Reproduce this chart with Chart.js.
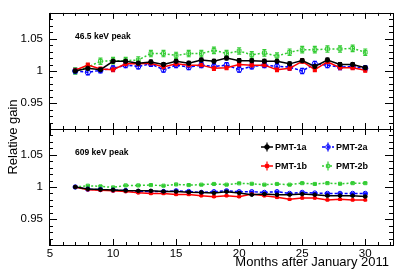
<!DOCTYPE html>
<html>
<head>
<meta charset="utf-8">
<script src="https://cdn.jsdelivr.net/npm/chart.js@4/dist/chart.umd.min.js"></script>
<style>
  html, body { margin: 0; padding: 0; background: #fff; }
  #wrap { position: relative; width: 399px; height: 274px; }
  #wrap canvas { position: absolute; left: 0; top: 0; }
</style>
</head>
<body>
<div id="wrap">
  <canvas id="topChart" width="399" height="274"></canvas>
  <canvas id="botChart" width="399" height="274"></canvas>
</div>
<script>
// months after January 2011
const months = [7,8,9,10,11,12,13,14,15,16,17,18,19,20,21,22,23,24,25,26,27,28,29,30];

// 46.5 keV peak
const top1a = [1.000,1.004,1.002,1.015,1.015,1.012,1.014,1.010,1.015,1.012,1.017,1.015,1.020,1.016,1.016,1.015,1.015,1.011,1.016,1.007,1.017,1.010,1.010,1.005];
const top1b = [1.001,1.009,1.003,1.002,1.011,1.011,1.012,1.006,1.011,1.009,1.009,1.004,1.005,1.010,1.009,1.009,1.002,1.004,1.015,1.002,1.014,1.005,1.005,1.001];
const top2a = [1.000,0.998,1.001,1.004,1.009,1.007,1.011,1.002,1.009,1.006,1.009,1.007,1.009,1.002,1.007,1.009,1.007,1.006,1.000,1.011,1.009,1.006,1.007,1.004];
const top2b = [1.000,1.006,1.015,1.016,1.016,1.017,1.027,1.027,1.024,1.027,1.027,1.032,1.027,1.031,1.025,1.028,1.023,1.029,1.033,1.033,1.034,1.034,1.035,1.029];
const topErr = [0.003, 0.003, 0.004, 0.005]; // 1a, 1b, 2a, 2b

// 609 keV peak
const bot1a = [1.000,0.997,0.996,0.9955,0.9945,0.994,0.994,0.993,0.993,0.992,0.9916,0.9906,0.9927,0.9906,0.988,0.989,0.988,0.988,0.989,0.988,0.9864,0.9864,0.9864,0.9853];
const bot1b = [1.000,0.9958,0.995,0.994,0.993,0.991,0.990,0.990,0.9885,0.9885,0.9864,0.985,0.9864,0.985,0.989,0.9864,0.984,0.981,0.983,0.983,0.980,0.981,0.980,0.980];
const bot2a = [1.000,0.9965,0.996,0.995,0.9945,0.993,0.993,0.993,0.994,0.993,0.9916,0.9927,0.994,0.9927,0.9927,0.9916,0.9927,0.990,0.9916,0.9906,0.990,0.990,0.990,0.990];
const bot2b = [1.000,1.002,1.001,0.9994,1.0025,1.0025,1.003,1.002,1.004,1.003,1.0036,1.0047,1.0036,1.0057,1.005,1.0036,1.0047,1.0036,1.006,1.0047,1.006,1.005,1.006,1.006];
const botErr = [0.001, 0.001, 0.001, 0.001];

const seriesNames = ['PMT-1a', 'PMT-1b', 'PMT-2a', 'PMT-2b'];
const xTicks = [5, 10, 15, 20, 25, 30];
const yTicks = [0.95, 1, 1.05];
const X_MIN = 4.92, X_MAX = 32.2;
const Y_MIN = 0.91, Y_MAX = 1.09;

const FONT = "'Liberation Sans', Arial, Helvetica, sans-serif";

const styles = [
  { color: '#000000', pointStyle: 'circle', fill: true,  dash: [] },
  { color: '#ff0000', pointStyle: 'rect',   fill: true,  dash: [] },
  { color: '#0000ff', pointStyle: 'circle', fill: false, dash: [3, 2] },
  { color: '#33cc33', pointStyle: 'rect',   fill: false, dash: [2, 2] }
];

function buildDatasets(lists, errs, radius) {
  return lists.map((vals, i) => ({
    label: seriesNames[i],
    data: months.map((m, j) => ({ x: m, y: vals[j] })),
    err: errs[i],
    borderColor: styles[i].color,
    borderWidth: 1.5,
    borderDash: styles[i].dash,
    pointStyle: styles[i].pointStyle,
    pointRadius: styles[i].fill ? radius : radius + 0.4,
    pointBorderWidth: 1,
    pointBorderColor: styles[i].color,
    pointBackgroundColor: styles[i].fill ? styles[i].color : 'rgba(0,0,0,0)',
    tension: 0
  }));
}

// vertical error bars with small caps
const errorBars = {
  id: 'errorBars',
  beforeDatasetsDraw(chart) {
    const ctx = chart.ctx, ys = chart.scales.y;
    ctx.save();
    chart.data.datasets.forEach((ds, di) => {
      const meta = chart.getDatasetMeta(di);
      ctx.strokeStyle = ds.borderColor;
      ctx.lineWidth = 1.2;
      ctx.setLineDash([]);
      meta.data.forEach((pt, j) => {
        const v = ds.data[j].y;
        const y1 = ys.getPixelForValue(v + ds.err);
        const y2 = ys.getPixelForValue(v - ds.err);
        ctx.beginPath();
        ctx.moveTo(pt.x, y1); ctx.lineTo(pt.x, y2);
        ctx.moveTo(pt.x - 2, y1); ctx.lineTo(pt.x + 2, y1);
        ctx.moveTo(pt.x - 2, y2); ctx.lineTo(pt.x + 2, y2);
        ctx.stroke();
      });
    });
    ctx.restore();
  }
};

// ROOT-like frame with inward ticks on all four sides
const frame = {
  id: 'frame',
  afterDraw(chart) {
    const ctx = chart.ctx, a = chart.chartArea;
    const xs = chart.scales.x, ys = chart.scales.y;
    ctx.save();
    ctx.strokeStyle = '#000';
    ctx.lineWidth = 1;
    ctx.setLineDash([]);
    ctx.strokeRect(Math.round(a.left) + 0.5, Math.round(a.top) + 0.5,
                   Math.round(a.right - a.left), Math.round(a.bottom - a.top));
    ctx.beginPath();
    for (let m = 5; m <= 32; m++) {
      const x = Math.round(xs.getPixelForValue(m)) + 0.5;
      const len = m % 5 === 0 ? 6 : 3;
      ctx.moveTo(x, a.top); ctx.lineTo(x, a.top + len);
      ctx.moveTo(x, a.bottom); ctx.lineTo(x, a.bottom - len);
    }
    for (let k = 91; k <= 109; k++) {
      const y = Math.round(ys.getPixelForValue(k / 100)) + 0.5;
      const len = k % 5 === 0 ? 8 : 4;
      ctx.moveTo(a.left, y); ctx.lineTo(a.left + len, y);
      ctx.moveTo(a.right, y); ctx.lineTo(a.right - len, y);
    }
    ctx.stroke();

    const o = chart.options.plugins.frame || {};
    ctx.fillStyle = '#000';
    if (o.label) {
      ctx.font = 'bold 8.5px ' + FONT;
      ctx.textAlign = 'left';
      ctx.textBaseline = 'alphabetic';
      ctx.fillText(o.label, a.left + 26, a.top + o.labelDy);
    }
    if (o.titles) {
      ctx.font = '13px ' + FONT;
      ctx.textAlign = 'right';
      ctx.fillText('Months after January 2011', a.right - 4, a.bottom + 21);
      ctx.save();
      ctx.translate(17, 137);
      ctx.rotate(-Math.PI / 2);
      ctx.font = '13px ' + FONT;
      ctx.textAlign = 'center';
      ctx.fillText('Relative gain', 0, 0);
      ctx.restore();
    }
    if (o.legend) {
      const cells = [[0, 0, 0], [2, 1, 0], [1, 0, 1], [3, 1, 1]];
      cells.forEach(([di, col, row]) => {
        const ds = chart.data.datasets[di];
        const mx = a.left + 218 + col * 61, my = a.top + 18 + row * 19;
        ctx.strokeStyle = ds.borderColor;
        ctx.lineWidth = 1.5;
        ctx.setLineDash(ds.borderDash);
        ctx.beginPath(); ctx.moveTo(mx - 6, my); ctx.lineTo(mx + 6, my); ctx.stroke();
        ctx.setLineDash([]);
        ctx.lineWidth = 1.2;
        ctx.beginPath(); ctx.moveTo(mx, my - 4.5); ctx.lineTo(mx, my + 4.5); ctx.stroke();
        ctx.fillStyle = ds.pointBackgroundColor;
        ctx.lineWidth = 1;
        Chart.helpers.drawPoint(ctx, { pointStyle: ds.pointStyle, radius: 2.3, rotation: 0, borderWidth: 1 }, mx, my);
        ctx.fillStyle = '#000';
        ctx.font = 'bold 9px ' + FONT;
        ctx.textAlign = 'left';
        ctx.fillText(ds.label, mx + 8, my + 3.3);
      });
    }
    ctx.restore();
  }
};

function makeChart(id, lists, errs, radius, showX, padding, frameOpts) {
  const tickFont = { family: FONT, size: 11.5 };
  return new Chart(document.getElementById(id), {
    type: 'line',
    data: { datasets: buildDatasets(lists, errs, radius) },
    options: {
      responsive: false,
      animation: false,
      events: [],
      layout: { padding: padding },
      plugins: { legend: { display: false }, tooltip: { enabled: false }, frame: frameOpts },
      scales: {
        x: {
          type: 'linear', min: X_MIN, max: X_MAX, display: showX,
          grid: { display: false, drawTicks: false }, border: { display: false },
          ticks: { color: '#000', font: tickFont, padding: 2, maxRotation: 0, callback: v => String(v) },
          afterBuildTicks: s => { s.ticks = xTicks.map(v => ({ value: v })); },
          afterFit: s => { if (showX) s.height = 29; }
        },
        y: {
          type: 'linear', min: Y_MIN, max: Y_MAX,
          grid: { display: false, drawTicks: false }, border: { display: false },
          ticks: { color: '#000', font: tickFont, padding: 6, callback: v => String(+v.toFixed(2)) },
          afterBuildTicks: s => { s.ticks = yTicks.map(v => ({ value: v })); },
          afterFit: s => { s.width = 49; }
        }
      }
    },
    plugins: [errorBars, frame]
  });
}

makeChart('topChart', [top1a, top1b, top2a, top2b], topErr, 2.2, false,
  { top: 12, right: 6, bottom: 145, left: 0 },
  { label: '46.5 keV peak', labelDy: 26 });

makeChart('botChart', [bot1a, bot1b, bot2a, bot2b], botErr, 1.8, true,
  { top: 129, right: 6, bottom: 0, left: 0 },
  { label: '609 keV peak', labelDy: 26, titles: true, legend: true });
</script>
</body>
</html>
